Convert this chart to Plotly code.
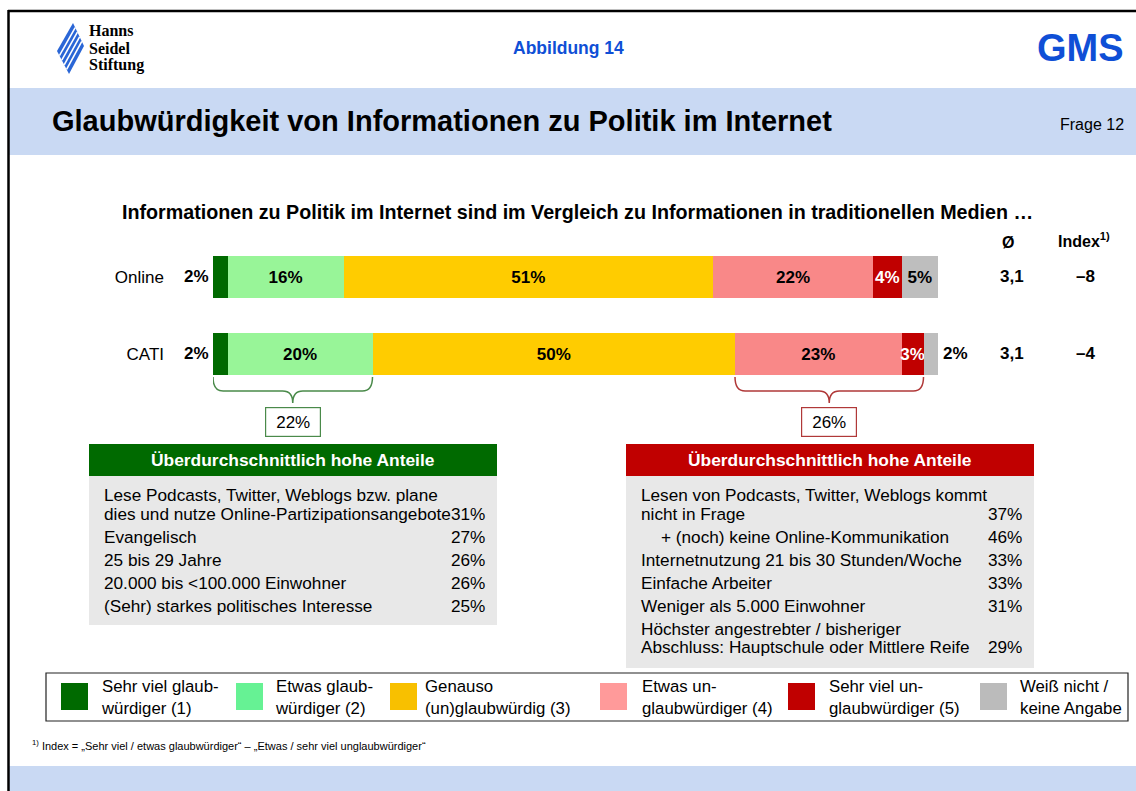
import plotly.graph_objects as go

W, H = 1136, 791
FONT = "Arial, Liberation Sans, sans-serif"
SERIF = "Times New Roman, Liberation Serif, serif"

# ---------------- data ----------------
rows = ["Online", "CATI"]
segments = ["Sehr viel glaubwürdiger (1)", "Etwas glaubwürdiger (2)", "Genauso (un)glaubwürdig (3)",
            "Etwas unglaubwürdiger (4)", "Sehr viel unglaubwürdiger (5)", "Weiß nicht / keine Angabe"]
legend_labels = ["Sehr viel glaub-<br>würdiger (1)", "Etwas glaub-<br>würdiger (2)", "Genauso<br>(un)glaubwürdig (3)",
                 "Etwas un-<br>glaubwürdiger (4)", "Sehr viel un-<br>glaubwürdiger (5)", "Weiß nicht /<br>keine Angabe"]
online_values = [2, 16, 51, 22, 4, 5]
cati_values = [2, 20, 50, 23, 3, 2]
mean_values = ["3,1", "3,1"]
index_values = ["–8", "–4"]

green_items = ["Lese Podcasts, Twitter, Weblogs bzw. plane\ndies und nutze Online-Partizipationsangebote",
               "Evangelisch", "25 bis 29 Jahre", "20.000 bis &lt;100.000 Einwohner",
               "(Sehr) starkes politisches Interesse"]
green_values = ["31%", "27%", "26%", "26%", "25%"]
red_items = ["Lesen von Podcasts, Twitter, Weblogs kommt\nnicht in Frage",
             "+ (noch) keine Online-Kommunikation", "Internetnutzung 21 bis 30 Stunden/Woche",
             "Einfache Arbeiter", "Weniger als 5.000 Einwohner",
             "Höchster angestrebter / bisheriger\nAbschluss: Hauptschule oder Mittlere Reife"]
red_values = ["37%", "46%", "33%", "33%", "31%", "29%"]
red_indent = [0, 20, 0, 0, 0, 0]

# ---------------- styles ----------------
bar_colors = ["#006A00", "#98F598", "#FFCC00", "#F98888", "#C00000", "#BEBEBE"]
legend_colors = ["#006A00", "#66F294", "#F8C000", "#FF9A9A", "#C00000", "#BBBBBB"]
text_colors = ["black", "black", "black", "black", "white", "black"]
BLUE_BAND = "#C9D9F3"
GMS_BLUE = "#0F4FD6"
GREEN_HDR = "#006A00"
RED_HDR = "#C00000"
GREEN_LINE = "#4A8A4A"
RED_LINE = "#B03838"
TXT = 17.2


def X(p):
    return p / W


def Y(p):
    return 1 - p / H


def rect(x0, y0, x1, y1, fill, line=None, lw=0):
    return dict(type="rect", xref="paper", yref="paper", x0=X(x0), x1=X(x1), y0=Y(y1), y1=Y(y0),
                fillcolor=fill, line=dict(width=lw, color=line or fill), layer="below")


def txt(x, y, s, size=TXT, color="black", xanchor="left", family=FONT, yanchor="middle"):
    return dict(x=X(x), y=Y(y), xref="paper", yref="paper", text=s, showarrow=False, align="left",
                xanchor=xanchor, yanchor=yanchor, font=dict(size=size, color=color, family=family))


fig = go.Figure()

values_by_row = {"Online": online_values, "CATI": cati_values}
for j, seg in enumerate(segments):
    xs = [values_by_row[r][j] for r in rows]
    texts = [f"<b>{v}%</b>" if v > 2 else "" for v in xs]
    fig.add_trace(go.Bar(
        y=rows, x=xs, orientation="h", name=seg, width=0.55,
        marker=dict(color=bar_colors[j], line=dict(width=0)),
        text=texts, textposition="inside", insidetextanchor="middle", textangle=0,
        textfont=dict(size=17, color=text_colors[j], family=FONT),
        cliponaxis=False, showlegend=False, hoverinfo="skip"))

shapes = []
annotations = []

# frame + bands
shapes.append(rect(9, 88, W, 155, BLUE_BAND))
shapes.append(rect(9, 766, W, H, BLUE_BAND))
shapes.append(dict(type="line", xref="paper", yref="paper", x0=X(8), x1=1, y0=Y(11), y1=Y(11),
                   line=dict(color="black", width=2.5)))
shapes.append(dict(type="line", xref="paper", yref="paper", x0=X(8.5), x1=X(8.5), y0=Y(10), y1=0,
                   line=dict(color="black", width=2.5)))

# logo diamond with stripes
P_top, P_right, P_bot, P_left = (73, 23), (84, 46), (69, 74), (57, 51)
pts = [P_top, P_right, P_bot, P_left]
path = "M " + " L ".join(f"{X(a)},{Y(b)}" for a, b in pts) + " Z"
shapes.append(dict(type="path", xref="paper", yref="paper", path=path, fillcolor="#2A66D6",
                   line=dict(width=0)))
for t in [0.2, 0.4, 0.6, 0.8]:
    sx = P_left[0] + t * (P_bot[0] - P_left[0]); sy = P_left[1] + t * (P_bot[1] - P_left[1])
    ex = P_top[0] + t * (P_right[0] - P_top[0]); ey = P_top[1] + t * (P_right[1] - P_top[1])
    shapes.append(dict(type="line", xref="paper", yref="paper", x0=X(sx), y0=Y(sy), x1=X(ex), y1=Y(ey),
                       line=dict(color="white", width=1.6)))
for i, w in enumerate(["Hanns", "Seidel", "Stiftung"]):
    annotations.append(txt(87, 31 + i * 17, f"<b>{w}</b>", size=16, family=SERIF))

annotations.append(txt(568, 48, "<b>Abbildung 14</b>", size=17.5, color=GMS_BLUE, xanchor="center"))
annotations.append(txt(1126, 48, "<b>GMS</b>", size=38, color=GMS_BLUE, xanchor="right"))
annotations.append(txt(50, 121, "<b>Glaubwürdigkeit von Informationen zu Politik im Internet</b>", size=29))
annotations.append(txt(1126, 125, "Frage 12", size=16, xanchor="right"))
annotations.append(txt(577, 212, "<b>Informationen zu Politik im Internet sind im Vergleich zu Informationen in traditionellen Medien …</b>",
                       size=19.7, xanchor="center"))

# column headers + values
annotations.append(txt(1008, 242, "<b>Ø</b>", size=16, xanchor="center"))
annotations.append(txt(1084, 240, "<b>Index<sup>1)</sup></b>", size=16, xanchor="center"))
for r, m, ix in zip(rows, mean_values, index_values):
    annotations.append(dict(x=X(1012), y=r, xref="paper", yref="y", text=f"<b>{m}</b>", showarrow=False,
                            xanchor="center", yanchor="middle", font=dict(size=17, family=FONT, color="black")))
    annotations.append(dict(x=X(1085), y=r, xref="paper", yref="y", text=f"<b>{ix}</b>", showarrow=False,
                            xanchor="center", yanchor="middle", font=dict(size=17, family=FONT, color="black")))
    vals = values_by_row[r]
    if vals[0] <= 2:
        annotations.append(dict(x=0, y=r, xref="x", yref="y", text=f"<b>{vals[0]}%</b>", showarrow=False,
                                xanchor="right", yanchor="middle", xshift=-2,
                                font=dict(size=17, family=FONT, color="black")))
    if vals[-1] <= 2:
        annotations.append(dict(x=sum(vals), y=r, xref="x", yref="y", text=f"<b>{vals[-1]}%</b>", showarrow=False,
                                xanchor="left", yanchor="middle", xshift=3,
                                font=dict(size=17, family=FONT, color="black")))

# brackets under CATI bar
y_top, y_mid, y_tip = Y(377), Y(391), Y(403)
r = 1.4


def bracket(x0, x1, color):
    xc = (x0 + x1) / 2
    p = (f"M {x0},{y_top} Q {x0},{y_mid} {x0 + r},{y_mid} L {xc - r},{y_mid} "
         f"Q {xc},{y_mid} {xc},{y_tip} Q {xc},{y_mid} {xc + r},{y_mid} "
         f"L {x1 - r},{y_mid} Q {x1},{y_mid} {x1},{y_top}")
    return dict(type="path", xref="x", yref="paper", path=p, line=dict(color=color, width=1.5))


g0, g1 = 0, sum(cati_values[:2])
r0, r1 = sum(cati_values[:3]), sum(cati_values[:5])
shapes.append(bracket(g0, g1, GREEN_LINE))
shapes.append(bracket(r0, r1, RED_LINE))
for (a, b), col in [((g0, g1), GREEN_LINE), ((r0, r1), RED_LINE)]:
    annotations.append(dict(x=(a + b) / 2, y=Y(422), xref="x", yref="paper", text=f"{b - a}%",
                            showarrow=False, xanchor="center", yanchor="middle", width=50, height=24,
                            borderpad=2, bordercolor=col, borderwidth=1.2, bgcolor="white",
                            font=dict(size=17, family=FONT, color="black")))


# side boxes
def side_box(x0, x1, y_body_end, hdr_color, items, values, indents):
    shapes.append(rect(x0, 444, x1, 476, hdr_color))
    shapes.append(rect(x0, 476, x1, y_body_end, "#E8E8E8"))
    annotations.append(txt((x0 + x1) / 2, 460, "<b>Überdurchschnittlich hohe Anteile</b>", size=17.4,
                           color="white", xanchor="center"))
    y = 495
    for item, val, ind in zip(items, values, indents):
        lines = item.split("\n")
        for k, line in enumerate(lines):
            annotations.append(txt(x0 + 13 + ind, y, line))
            if k == len(lines) - 1:
                annotations.append(txt(x1 - 10, y, val, xanchor="right"))
                y += 23
            else:
                y += 18.5


side_box(89, 497, 625, GREEN_HDR, green_items, green_values, [0] * len(green_items))
side_box(626, 1034, 668, RED_HDR, red_items, red_values, red_indent)

# custom legend
shapes.append(dict(type="rect", xref="paper", yref="paper", x0=X(46), x1=X(1128), y0=Y(721), y1=Y(673),
                   line=dict(color="#222222", width=1.2), fillcolor="white", layer="below"))
sq_x = [61, 236, 390, 600, 788, 980]
tx_x = [99, 273, 423, 640, 827, 1018]
for lab, col, sx, tx in zip(legend_labels, legend_colors, sq_x, tx_x):
    shapes.append(rect(sx, 683, sx + 27, 710, col))
    annotations.append(txt(tx, 697, lab, size=16.8))

annotations.append(txt(30, 745, "<sup>1)</sup> Index = „Sehr viel / etwas glaubwürdiger“ – „Etwas / sehr viel unglaubwürdiger“",
                       size=11))

fig.update_layout(
    width=W, height=H, margin=dict(l=0, r=0, t=0, b=0),
    paper_bgcolor="white", plot_bgcolor="rgba(0,0,0,0)",
    barmode="stack", showlegend=False,
    xaxis=dict(domain=[X(213), X(938)], range=[0, 100], visible=False, fixedrange=True),
    yaxis=dict(domain=[Y(431), Y(200)], type="category", categoryarray=["CATI", "Online"],
               range=[-1, 2], showgrid=False, zeroline=False, showline=False, ticks="",
               ticklabelstandoff=48, tickfont=dict(size=17, family=FONT, color="black"), fixedrange=True),
    uniformtext=dict(minsize=17, mode="show"),
    shapes=shapes, annotations=annotations,
    font=dict(family=FONT, color="black"),
)

fig.write_html("out.html", config={"displayModeBar": False},
               post_script="document.body.style.margin='0px';document.body.style.overflow='hidden';")
